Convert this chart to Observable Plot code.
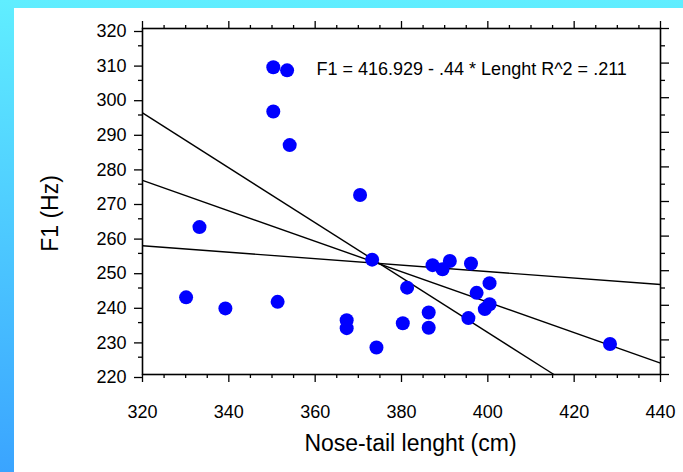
<!DOCTYPE html>
<html><head><meta charset="utf-8">
<script src="https://cdn.jsdelivr.net/npm/d3@7"></script>
<script src="https://cdn.jsdelivr.net/npm/@observablehq/plot@0.6"></script>
<style>
html,body{margin:0;padding:0;background:#fff;}
#wrap{position:relative;width:683px;height:472px;background:linear-gradient(to bottom,#60EEFF,#3AA4FF);overflow:hidden;}
#panel{position:absolute;left:14px;top:8px;right:0;bottom:0;background:#fff;}
#chart{position:absolute;left:0;top:0;}
</style></head><body>
<div id="wrap"><div id="panel"></div><div id="chart"></div></div>
<script>
// Data
const lengthCm = [350.3, 353.5, 350.3, 354.1, 370.4, 333.2, 373.2, 330.1, 339.2, 351.3, 367.3, 367.3, 374.2, 380.3, 381.3, 386.3, 386.3, 387.2, 391.2, 389.5, 396.1, 400.4, 397.4, 400.4, 399.3, 395.5, 428.3];
const f1Hz     = [308.8, 307.9, 296.0, 286.3, 271.9, 262.6, 253.2, 242.3, 239.1, 241.0, 235.7, 233.4, 227.8, 234.8, 245.1, 237.9, 233.5, 251.6, 252.8, 250.4, 252.1, 246.4, 243.6, 240.3, 238.9, 236.3, 228.8];

// Three straight lines (start and end values)
const lineStartX = [320, 320, 320];
const lineStartY = [295.6, 276.1, 257.2];
const lineEndX   = [415.3, 440, 440];
const lineEndY   = [220, 223.3, 246.0];

const xTicks = [320, 340, 360, 380, 400, 420, 440];
const yTicks = [220, 230, 240, 250, 260, 270, 280, 290, 300, 310, 320];
const xMinor = d3.range(325, 440, 5).filter(v => !xTicks.includes(v));
const yMinor = d3.range(225, 320, 5).filter(v => !yTicks.includes(v));

const equation = "F1 = 416.929 - .44 * Lenght R^2 = .211";
const xTitle = "Nose-tail lenght (cm)";
const yTitle = "F1 (Hz)";

const points = lengthCm.map((x, i) => ({length: x, f1: f1Hz[i]}));
const lines = lineStartX.map((x, i) => ({x1: x, y1: lineStartY[i], x2: lineEndX[i], y2: lineEndY[i]}));

const font = "'Liberation Sans', Arial, Helvetica, sans-serif";
const axisStyle = {stroke: "#000", strokeWidth: 1.3, label: null};

const chart = Plot.plot({
  width: 683,
  height: 472,
  marginLeft: 142,
  marginRight: 23,
  marginTop: 28,
  marginBottom: 98,
  style: {fontFamily: font, background: "transparent", color: "#000", overflow: "visible"},
  x: {domain: [320, 440], label: null},
  y: {domain: [220, 320], label: null},
  marks: [
    Plot.link(lines, {x1: "x1", y1: "y1", x2: "x2", y2: "y2", stroke: "#000", strokeWidth: 1.4}),
    Plot.frame({stroke: "#000", strokeWidth: 1.6}),
    Plot.axisX({anchor: "bottom", ticks: xTicks, tickSize: 8, tickPadding: 23, fontSize: 18, ...axisStyle}),
    Plot.axisX({anchor: "bottom", ticks: xMinor, tickSize: 4, text: null, ...axisStyle}),
    Plot.axisX({anchor: "top", ticks: xTicks, tickSize: 8, text: null, ...axisStyle}),
    Plot.axisX({anchor: "top", ticks: xMinor, tickSize: 4, text: null, ...axisStyle}),
    Plot.axisY({anchor: "left", ticks: yTicks, tickSize: 8, tickPadding: 8, fontSize: 18, dy: 3, ...axisStyle}),
    Plot.axisY({anchor: "left", ticks: yMinor, tickSize: 4, text: null, ...axisStyle}),
    Plot.axisY({anchor: "right", ticks: yTicks, tickSize: 8, text: null, ...axisStyle}),
    Plot.axisY({anchor: "right", ticks: yMinor, tickSize: 4, text: null, ...axisStyle}),
    Plot.dot(points, {x: "length", y: "f1", r: 7, fill: "#0000FF"}),
    Plot.text([equation], {text: d => d, frameAnchor: "top-left", dx: 174, dy: 40.5, textAnchor: "start", lineAnchor: "middle", fontSize: 18, fill: "#000"}),
    Plot.text([xTitle], {text: d => d, frameAnchor: "bottom", dx: 9, dy: 69.5, textAnchor: "middle", lineAnchor: "middle", fontSize: 23, fill: "#000"}),
    Plot.text([yTitle], {text: d => d, frameAnchor: "left", rotate: -90, dx: -92, dy: 12, textAnchor: "middle", lineAnchor: "middle", fontSize: 23, fill: "#000"})
  ]
});
document.getElementById("chart").appendChild(chart);
</script>
</body></html>
